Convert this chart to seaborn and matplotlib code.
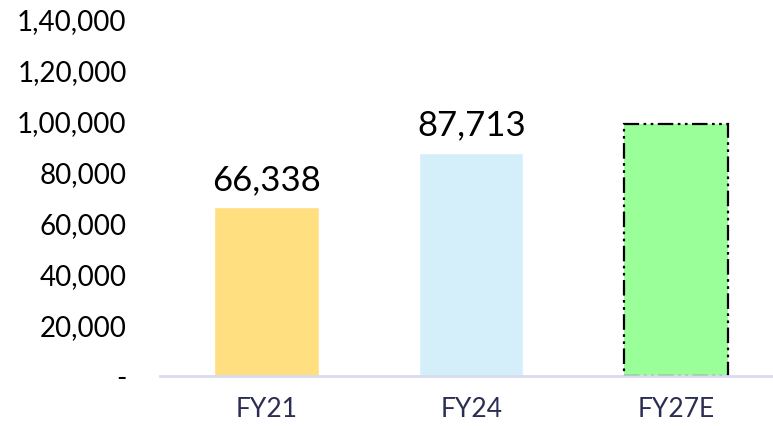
import pandas as pd
import matplotlib
matplotlib.use("Agg")
import matplotlib.pyplot as plt
import seaborn as sns
from matplotlib.ticker import FuncFormatter, MultipleLocator

# data
years = ["FY21", "FY24", "FY27E"]
values = [66338, 87713, 99000]
labels = ["66,338", "87,713", ""]
colors = ["#ffdf7f", "#d5effa", "#9aff99"]

df = pd.DataFrame({"year": years, "value": values})

sns.set_theme(style="white")
plt.rcParams["font.family"] = ["Lato", "DejaVu Sans"]


def indian_format(x, pos):
    # Indian digit grouping: 1,40,000
    if x == 0:
        return "-"
    s = str(int(round(x)))
    last3 = s[-3:]
    rest = s[:-3]
    groups = []
    while len(rest) > 2:
        groups.insert(0, rest[-2:])
        rest = rest[:-2]
    if rest:
        groups.insert(0, rest)
    return ",".join(groups + [last3])


fig = plt.figure(figsize=(7.73, 4.26), dpi=100)
ax = fig.add_axes([0.207, 0.117, 0.80, 0.836])

sns.barplot(data=df, x="year", y="value", hue="year", palette=colors,
            width=0.51, legend=False, ax=ax, saturation=1)

# dashed outline for the estimate bar
est = ax.patches[2]
est.set_edgecolor("black")
est.set_linewidth(1.6)
est.set_linestyle((0, (7, 2, 1.2, 2, 1.2, 2)))

for patch, lab in zip(ax.patches, labels):
    if lab:
        ax.text(patch.get_x() + patch.get_width() / 2, patch.get_height() + 4500,
                lab, ha="center", va="bottom", fontsize=25, color="black")

ax.set_ylim(0, 140000)
ax.set_xlim(-0.52, 2.5)
ax.yaxis.set_major_locator(MultipleLocator(20000))
ax.yaxis.set_major_formatter(FuncFormatter(indian_format))
ax.tick_params(axis="y", labelsize=20, colors="black", length=0, pad=24)
ax.tick_params(axis="x", labelsize=19, colors="#2b2d52", length=0, pad=15)
ax.set_xlabel("")
ax.set_ylabel("")

for side in ["left", "right", "top"]:
    ax.spines[side].set_visible(False)
ax.spines["bottom"].set_color("#d9d9f0")
ax.spines["bottom"].set_linewidth(2)

fig.savefig("out.png", dpi=100)
